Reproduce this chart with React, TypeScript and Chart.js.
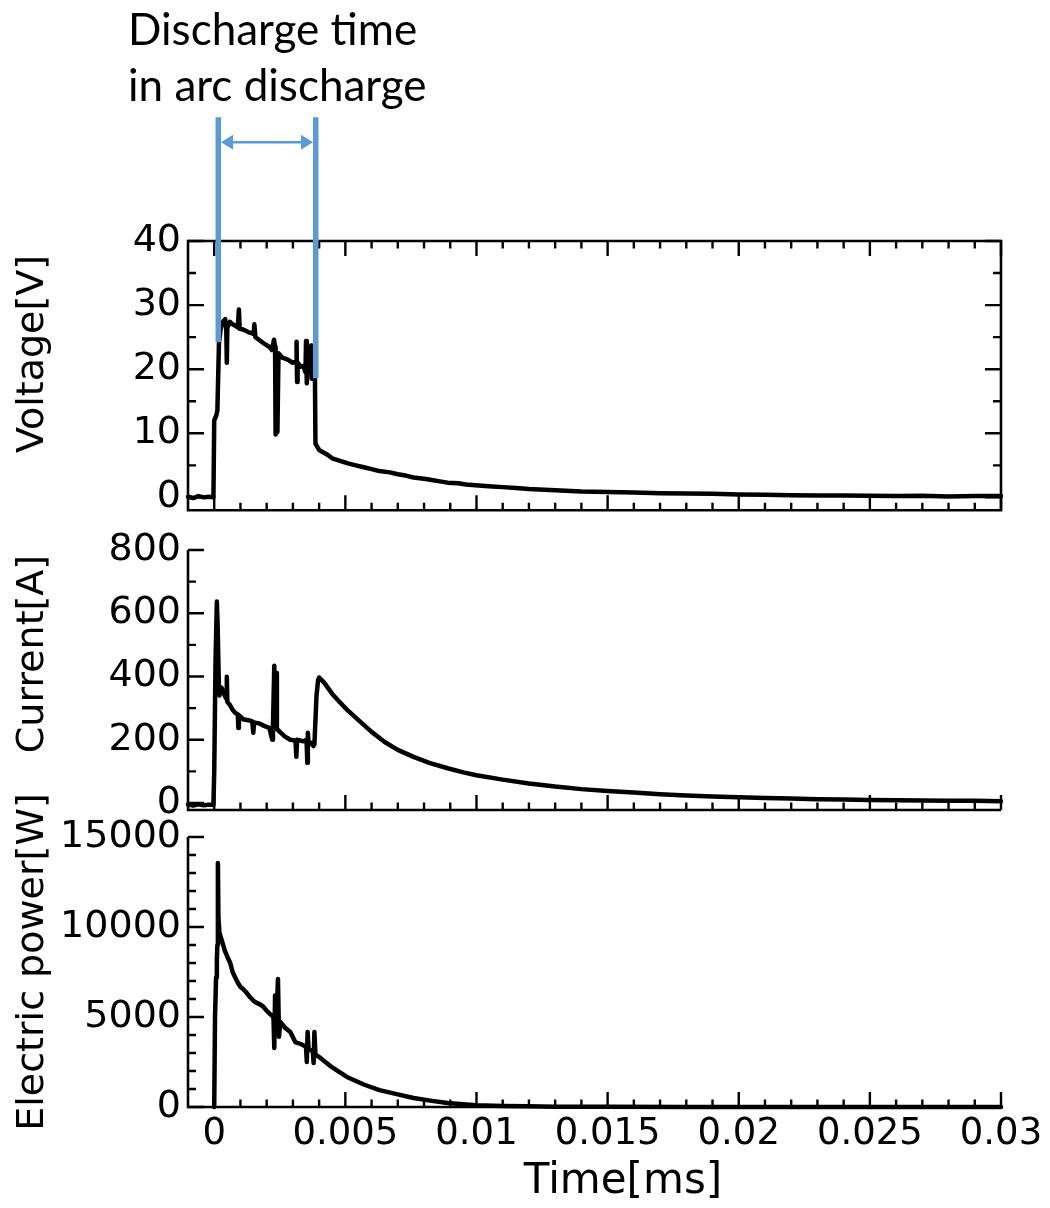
import React, { useEffect, useRef } from 'react';
import { Chart, registerables } from 'chart.js';

Chart.register(...registerables);

// ---------- data (time in ms) ----------
const voltageTime = [
  -0.001, -0.0008, -0.0006, -0.0004, -0.0002, -0.00003, 0.0, 0.00008, 0.00012, 0.00018,
  0.00025, 0.00035, 0.00042, 0.00046, 0.00048, 0.0005, 0.0006, 0.0007, 0.0008, 0.0009,
  0.00094, 0.00097, 0.0011, 0.0013, 0.0015, 0.00153, 0.00157, 0.0017, 0.0019, 0.0021,
  0.0022, 0.00228, 0.00232, 0.00234, 0.00238, 0.00241, 0.00245, 0.0026, 0.0028, 0.003,
  0.00312, 0.00314, 0.00316, 0.00318, 0.0033, 0.0034, 0.00348, 0.0035, 0.00353, 0.00356,
  0.0036, 0.00368, 0.0037, 0.00372, 0.0038, 0.00384, 0.00386, 0.004, 0.0043, 0.0045,
  0.0048, 0.0051, 0.0054, 0.0057, 0.006, 0.0063, 0.0067, 0.007, 0.0073, 0.0076,
  0.008, 0.0083, 0.0086, 0.0089, 0.0093, 0.0096, 0.0102, 0.0106, 0.011, 0.0115,
  0.012, 0.013, 0.014, 0.015, 0.016, 0.017, 0.018, 0.019, 0.02, 0.021,
  0.022, 0.023, 0.024, 0.025, 0.026, 0.027, 0.028, 0.029, 0.03,
];
const voltageValues = [
  0.1, -0.1, 0.2, 0.0, 0.1, 0.0, 12.0, 12.8, 13.5, 24.0,
  26.5, 27.5, 27.8, 26.0, 21.0, 26.5, 27.4, 27.0, 26.8, 26.5,
  29.3, 26.3, 26.2, 25.8, 25.5, 27.0, 25.0, 24.6, 24.0, 23.5,
  23.0, 24.6, 23.5, 9.8, 22.0, 10.2, 22.5, 21.8, 21.5, 21.0,
  21.2, 24.3, 18.0, 21.0, 20.4, 20.5, 19.5, 24.4, 17.8, 21.0,
  19.6, 19.8, 23.7, 18.5, 19.2, 19.0, 8.4, 7.4, 6.7, 6.1,
  5.7, 5.3, 5.0, 4.7, 4.4, 4.1, 3.9, 3.6, 3.4, 3.1,
  2.9, 2.7, 2.5, 2.3, 2.2, 2.0, 1.8, 1.7, 1.6, 1.45,
  1.3, 1.1, 0.9, 0.85, 0.75, 0.65, 0.6, 0.55, 0.45, 0.4,
  0.35, 0.3, 0.3, 0.25, 0.2, 0.25, 0.15, 0.2, 0.2,
];

const currentTime = [
  -0.001, -0.0008, -0.0006, -0.0004, -0.0002, -0.00003, 0.0, 0.00005, 0.0001, 0.00013,
  0.00018, 0.0002, 0.00028, 0.0004, 0.00046, 0.00048, 0.0005, 0.0006, 0.0007, 0.0008,
  0.0009, 0.00092, 0.00094, 0.0011, 0.0013, 0.00145, 0.00149, 0.00152, 0.0017, 0.0019,
  0.0021, 0.00221, 0.00224, 0.00229, 0.00232, 0.00236, 0.00239, 0.0025, 0.0027, 0.0029,
  0.0031, 0.00313, 0.00316, 0.0034, 0.00352, 0.00355, 0.00357, 0.0036, 0.0037, 0.00378,
  0.00382, 0.0039, 0.00396, 0.004, 0.0042, 0.0045, 0.0048, 0.0051, 0.0055, 0.006,
  0.0065, 0.007, 0.0076, 0.0082, 0.0089, 0.0095, 0.01, 0.011, 0.012, 0.013,
  0.014, 0.015, 0.016, 0.017, 0.018, 0.019, 0.02, 0.021, 0.022, 0.023,
  0.024, 0.025, 0.026, 0.027, 0.028, 0.029, 0.03,
];
const currentValues = [
  -5, -8, -4, -7, -5, -6, 100, 450, 637, 560,
  360, 340, 365, 340, 330, 399, 320, 310, 295, 285,
  280, 237, 278, 265, 262, 258, 222, 255, 252, 244,
  238, 200, 245, 434, 250, 411, 235, 225, 210, 200,
  198, 146, 200, 195, 200, 127, 222, 185, 190, 180,
  185, 340, 388, 397, 380, 345, 318, 292, 262, 225,
  193, 168, 146, 127, 110, 97, 88, 74, 62, 52,
  44, 38, 33, 28, 24, 21, 18, 16, 14, 12,
  11, 10, 9, 8, 7, 7, 6,
];

const powerTime = [
  0.0, 0.00003, 0.00007, 0.0001, 0.00012, 0.00014, 0.00016, 0.0002, 0.0003, 0.0004,
  0.0005, 0.00061, 0.0007, 0.0008, 0.0009, 0.001, 0.0011, 0.0012, 0.00137, 0.0015,
  0.0016, 0.00175, 0.00188, 0.002, 0.0021, 0.00222, 0.00226, 0.00229, 0.00232, 0.00236,
  0.00243, 0.00247, 0.00252, 0.0027, 0.0029, 0.00309, 0.0033, 0.0035, 0.00353, 0.00356,
  0.0036, 0.0037, 0.00376, 0.00379, 0.00382, 0.00386, 0.004, 0.0045, 0.00506, 0.0057,
  0.0063, 0.007, 0.0076, 0.0083, 0.0089, 0.0095, 0.01, 0.011, 0.012, 0.013,
  0.015, 0.018, 0.022, 0.03,
];
const powerValues = [
  0, 5000, 7200, 8170, 9000, 13550, 10500, 9670, 9200, 8700,
  8350, 8000, 7500, 7200, 6900, 6670, 6550, 6400, 6100, 5900,
  5800, 5700, 5560, 5350, 5200, 5050, 4950, 3280, 6200, 4300,
  7110, 3900, 4720, 4400, 4170, 3610, 3500, 3350, 2500, 4170,
  3200, 3150, 3100, 2440, 4170, 2900, 2780, 2200, 1670, 1250,
  940, 700, 500, 340, 220, 150, 100, 60, 35, 20,
  10, 5, 2, 0,
];

// ---------- axes ----------
const xRange = [-0.001, 0.03];
const xTickValues = [0, 0.005, 0.01, 0.015, 0.02, 0.025, 0.03];
const xTickLabels = ['0', '0.005', '0.01', '0.015', '0.02', '0.025', '0.03'];
const xMinorTicks = [
  0.001, 0.002, 0.003, 0.004, 0.006, 0.007, 0.008, 0.009, 0.011, 0.012, 0.013, 0.014,
  0.016, 0.017, 0.018, 0.019, 0.021, 0.022, 0.023, 0.024, 0.026, 0.027, 0.028, 0.029,
];

const voltageRange = [-2, 40];
const voltageTicks = [0, 10, 20, 30, 40];
const voltageMinorTicks = [5, 15, 25, 35];

const currentRange = [-22, 800];
const currentTicks = [0, 200, 400, 600, 800];
const currentMinorTicks = [100, 300, 500, 700];

const powerRange = [0, 15000];
const powerTicks = [0, 5000, 10000, 15000];
const powerMinorTicks = [1000, 2000, 3000, 4000, 6000, 7000, 8000, 9000, 11000, 12000, 13000, 14000];

const xTitle = 'Time[ms]';
const voltageTitle = 'Voltage[V]';
const currentTitle = 'Current[A]';
const powerTitle = 'Electric power[W]';

// discharge-time annotation (time in ms, voltage in V)
const markerTimes = [0.000155, 0.00387];
const markerBottoms = [24.2, 18.6];
const markerTop = 59.3;
const arrowLevel = 55.4;
const annotationLines = ['Discharge time', 'in arc discharge'];

// ---------- styling ----------
const TICK_FONT = '"DejaVu Sans", Verdana, sans-serif';
const BLUE = '#5B9BD5';

type PanelSpec = {
  box: boolean;
  yMajor: number[];
  yMinor: number[];
  title: string;
  titlePos: [number, number];
  xTitlePos?: [number, number];
};

function framePlugin(spec: PanelSpec) {
  return {
    id: 'frameTicks',
    afterDatasetsDraw(chart: any) {
      const { ctx, chartArea } = chart;
      const { left, right, top, bottom } = chartArea;
      const xs = chart.scales.x;
      const ys = chart.scales.y;
      ctx.save();
      ctx.strokeStyle = '#000';
      ctx.lineWidth = 2.6;
      ctx.lineCap = 'butt';
      ctx.lineJoin = 'miter';
      ctx.beginPath();
      if (spec.box) {
        ctx.rect(left, top, right - left, bottom - top);
      } else {
        ctx.moveTo(left, top);
        ctx.lineTo(left, bottom);
        ctx.lineTo(right, bottom);
      }
      ctx.stroke();

      ctx.lineWidth = 2.4;
      ctx.beginPath();
      const xt = (v: number, len: number) => {
        const px = xs.getPixelForValue(v);
        ctx.moveTo(px, bottom);
        ctx.lineTo(px, bottom - len);
        if (spec.box) {
          ctx.moveTo(px, top);
          ctx.lineTo(px, top + len);
        }
      };
      const yt = (v: number, len: number) => {
        const py = ys.getPixelForValue(v);
        ctx.moveTo(left, py);
        ctx.lineTo(left + len, py);
        if (spec.box) {
          ctx.moveTo(right, py);
          ctx.lineTo(right - len, py);
        }
      };
      xTickValues.forEach((v) => xt(v, 15));
      xMinorTicks.forEach((v) => xt(v, 7.5));
      spec.yMajor.forEach((v) => yt(v, 16));
      spec.yMinor.forEach((v) => yt(v, 8));
      ctx.stroke();
      ctx.restore();
    },
    afterDraw(chart: any) {
      const { ctx } = chart;
      ctx.save();
      ctx.fillStyle = '#000';
      ctx.font = `38px ${TICK_FONT}`;
      ctx.textAlign = 'center';
      ctx.textBaseline = 'middle';
      ctx.translate(spec.titlePos[0], spec.titlePos[1]);
      ctx.rotate(-Math.PI / 2);
      ctx.fillText(spec.title, 0, 0);
      ctx.restore();
      if (spec.xTitlePos) {
        ctx.save();
        ctx.fillStyle = '#000';
        ctx.font = `42px ${TICK_FONT}`;
        ctx.textAlign = 'center';
        ctx.textBaseline = 'middle';
        ctx.fillText(xTitle, spec.xTitlePos[0], spec.xTitlePos[1]);
        ctx.restore();
      }
    },
  };
}

const annotationPlugin = {
  id: 'dischargeAnnotation',
  afterDraw(chart: any) {
    const { ctx } = chart;
    const xs = chart.scales.x;
    const ys = chart.scales.y;
    const lw = 5.5;
    const xA = xs.getPixelForValue(markerTimes[0]);
    const xB = xs.getPixelForValue(markerTimes[1]);
    const yTop = ys.getPixelForValue(markerTop);
    ctx.save();
    ctx.strokeStyle = BLUE;
    ctx.fillStyle = BLUE;
    ctx.lineCap = 'butt';
    ctx.lineWidth = lw;
    ctx.beginPath();
    ctx.moveTo(xA, yTop);
    ctx.lineTo(xA, ys.getPixelForValue(markerBottoms[0]));
    ctx.moveTo(xB, yTop);
    ctx.lineTo(xB, ys.getPixelForValue(markerBottoms[1]));
    ctx.stroke();

    const ay = ys.getPixelForValue(arrowLevel);
    const l = xA + lw / 2;
    const r = xB - lw / 2;
    const headL = 12;
    const headH = 7.5;
    ctx.lineWidth = 2.5;
    ctx.beginPath();
    ctx.moveTo(l + headL - 1, ay);
    ctx.lineTo(r - headL + 1, ay);
    ctx.stroke();
    ctx.beginPath();
    ctx.moveTo(l, ay);
    ctx.lineTo(l + headL, ay - headH);
    ctx.lineTo(l + headL, ay + headH);
    ctx.closePath();
    ctx.moveTo(r, ay);
    ctx.lineTo(r - headL, ay - headH);
    ctx.lineTo(r - headL, ay + headH);
    ctx.closePath();
    ctx.fill();

    ctx.fillStyle = '#000';
    ctx.font = '44px Lato, "Open Sans", sans-serif';
    ctx.textAlign = 'left';
    ctx.textBaseline = 'alphabetic';
    ctx.fillText(annotationLines[0], 128, 45);
    ctx.fillText(annotationLines[1], 128, 101);
    ctx.restore();
  },
};

function pairs(xsArr: number[], ysArr: number[]) {
  return xsArr.map((x, i) => ({ x, y: ysArr[i] }));
}

function makeYScale(range: number[], ticks: number[]) {
  return {
    type: 'linear',
    position: 'left',
    min: range[0],
    max: range[1],
    grid: { display: false, drawTicks: false },
    border: { display: false },
    afterBuildTicks: (s: any) => {
      s.ticks = ticks.map((v) => ({ value: v }));
    },
    afterFit: (s: any) => {
      s.width = 188;
    },
    ticks: {
      color: '#000',
      padding: 7,
      font: { family: TICK_FONT, size: 38 },
      callback: (v: any) => String(v),
    },
  };
}

function makeConfig(
  data: { x: number; y: number }[],
  range: number[],
  ticks: number[],
  padding: any,
  showX: boolean,
  plugins: any[],
) {
  const xScale: any = {
    type: 'linear',
    min: xRange[0],
    max: xRange[1],
    display: showX,
    grid: { display: false, drawTicks: false },
    border: { display: false },
    afterBuildTicks: (s: any) => {
      s.ticks = xTickValues.map((v) => ({ value: v }));
    },
    ticks: {
      color: '#000',
      padding: 5,
      maxRotation: 0,
      minRotation: 0,
      autoSkip: false,
      font: { family: TICK_FONT, size: 37 },
      callback: (_v: any, i: number) => xTickLabels[i],
    },
  };
  if (showX) {
    xScale.afterFit = (s: any) => {
      s.height = 101;
    };
  }
  return {
    type: 'line',
    data: {
      datasets: [
        {
          data,
          borderColor: '#000',
          borderWidth: 4.5,
          borderJoinStyle: 'round',
          borderCapStyle: 'round',
          pointRadius: 0,
          tension: 0,
          fill: false,
          clip: 8,
        },
      ],
    },
    options: {
      animation: false,
      responsive: false,
      devicePixelRatio: 1,
      events: [],
      layout: { padding },
      plugins: { legend: { display: false }, tooltip: { enabled: false }, title: { display: false } },
      scales: { x: xScale, y: makeYScale(range, ticks) },
    },
    plugins,
  };
}

export default function App() {
  const c1 = useRef<HTMLCanvasElement>(null);
  const c2 = useRef<HTMLCanvasElement>(null);
  const c3 = useRef<HTMLCanvasElement>(null);

  useEffect(() => {
    const charts: Chart[] = [];
    charts.push(
      new Chart(
        c1.current as HTMLCanvasElement,
        makeConfig(
          pairs(voltageTime, voltageValues),
          voltageRange,
          voltageTicks,
          { top: 241, left: 0, right: 49, bottom: 28 },
          false,
          [
            framePlugin({ box: true, yMajor: voltageTicks, yMinor: voltageMinorTicks, title: voltageTitle, titlePos: [33, 354] }),
            annotationPlugin,
          ],
        ) as any,
      ),
    );
    charts.push(
      new Chart(
        c2.current as HTMLCanvasElement,
        makeConfig(
          pairs(currentTime, currentValues),
          currentRange,
          currentTicks,
          { top: 30, left: 0, right: 49, bottom: 30 },
          false,
          [framePlugin({ box: false, yMajor: currentTicks, yMinor: currentMinorTicks, title: currentTitle, titlePos: [33, 134] })],
        ) as any,
      ),
    );
    charts.push(
      new Chart(
        c3.current as HTMLCanvasElement,
        makeConfig(
          pairs(powerTime, powerValues),
          powerRange,
          powerTicks,
          { top: 57, left: 0, right: 49, bottom: 0 },
          true,
          [
            framePlugin({
              box: false,
              yMajor: powerTicks,
              yMinor: powerMinorTicks,
              title: powerTitle,
              titlePos: [33, 182],
              xTitlePos: [623, 402],
            }),
          ],
        ) as any,
      ),
    );
    return () => charts.forEach((c) => c.destroy());
  }, []);

  const abs = (top: number, height: number): React.CSSProperties => ({
    position: 'absolute',
    left: 0,
    top,
    width: 1050,
    height,
  });

  return (
    <div style={{ position: 'absolute', left: 0, top: 0, width: 1050, height: 1208, background: '#fff' }}>
      <canvas ref={c1} width={1050} height={540} style={abs(0, 540)} />
      <canvas ref={c2} width={1050} height={840 - 520} style={abs(520, 840 - 520)} />
      <canvas ref={c3} width={1050} height={1208 - 780} style={abs(780, 1208 - 780)} />
    </div>
  );
}
